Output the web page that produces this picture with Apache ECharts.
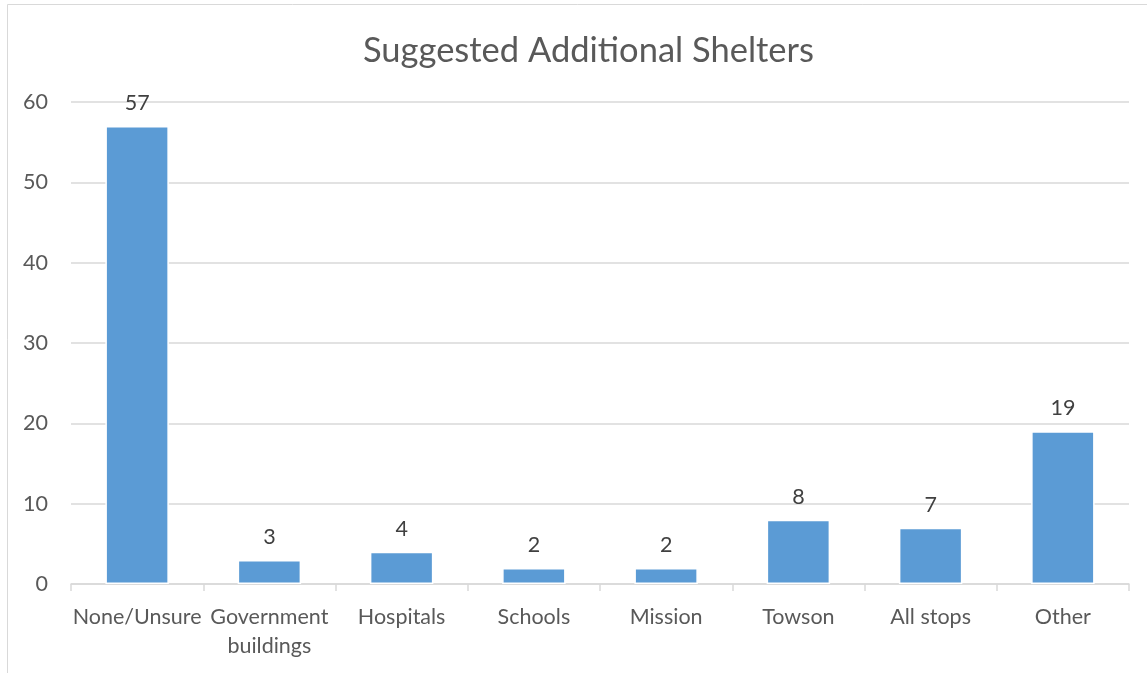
<!DOCTYPE html>
<html>
<head>
<meta charset="utf-8">
<script src="https://cdn.jsdelivr.net/npm/echarts@6/dist/echarts.min.js"></script>
<style>
  html, body { margin: 0; padding: 0; background: #ffffff; }
  #chart { width: 1147px; height: 673px; }
</style>
</head>
<body>
<div id="chart"></div>
<script>
// Survey responses: where riders would like additional shelters
const categories = ['None/Unsure', 'Government buildings', 'Hospitals', 'Schools', 'Mission', 'Towson', 'All stops', 'Other'];
const responses = [57, 3, 4, 2, 2, 8, 7, 19];
const yTicks = { min: 0, max: 60, interval: 10 };

const FONT = 'Lato, "Open Sans", sans-serif';

const chart = echarts.init(document.getElementById('chart'));
chart.setOption({
  backgroundColor: '#ffffff',
  animation: false,
  title: {
    text: 'Suggested Additional Shelters',
    left: 358,
    top: 28,
    textStyle: { fontFamily: FONT, fontSize: 34.5, fontWeight: 'normal', color: '#595959' }
  },
  graphic: [{
    type: 'rect',
    shape: { x: 7.5, y: 4.5, width: 1200, height: 720 },
    style: { fill: 'none', stroke: '#d9d9d9', lineWidth: 1 },
    silent: true
  }],
  grid: { left: 71, right: 18, top: 102, bottom: 89 },
  xAxis: {
    type: 'category',
    data: categories,
    axisLine: { lineStyle: { color: '#d9d9d9', width: 1.5 } },
    axisTick: { show: true, length: 7, lineStyle: { color: '#d9d9d9', width: 1.5 } },
    axisLabel: {
      interval: 0,
      margin: 19,
      fontFamily: FONT,
      fontSize: 21.5,
      color: '#595959',
      lineHeight: 29,
      formatter: v => v.replace(' buildings', '\nbuildings')
    }
  },
  yAxis: {
    type: 'value',
    min: yTicks.min,
    max: yTicks.max,
    interval: yTicks.interval,
    axisLine: { show: false },
    axisTick: { show: false },
    axisLabel: { margin: 23, fontFamily: FONT, fontSize: 21.5, color: '#595959' },
    splitLine: { lineStyle: { color: '#d9d9d9', width: 1.5 } }
  },
  series: [{
    type: 'bar',
    data: responses,
    barWidth: '48%',
    itemStyle: { color: '#5b9bd5', borderColor: '#ffffff', borderWidth: 1.5 },
    label: {
      show: true,
      position: 'top',
      distance: 12,
      fontFamily: FONT,
      fontSize: 21.5,
      color: '#404040'
    }
  }]
});
</script>
</body>
</html>
